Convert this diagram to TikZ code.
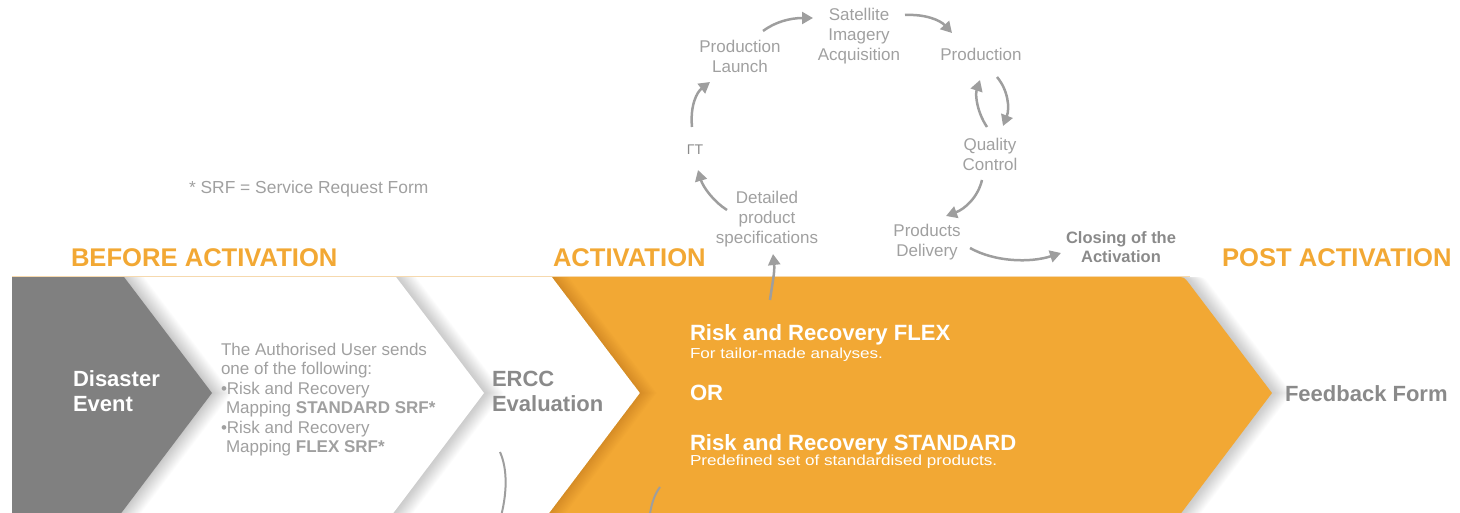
\documentclass[tikz,border=0pt]{standalone}
\usepackage{fontspec}
\setmainfont{Liberation Sans}
\newfontfamily\widesans[FakeStretch=1.18]{Liberation Sans}
\usetikzlibrary{arrows.meta}
\definecolor{orng}{RGB}{242,168,52}
\definecolor{chevgray}{RGB}{128,128,128}
\definecolor{txtgray}{RGB}{160,160,160}
\definecolor{dkgray}{RGB}{138,138,138}
\definecolor{arrgray}{RGB}{158,158,158}
\definecolor{toplinec}{RGB}{246,217,174}
\newcommand\fsz[2]{\fontsize{#1}{#2}\selectfont}
\begin{document}
\begin{tikzpicture}[x=1pt,y=-1pt,
  every node/.style={inner sep=0pt, outer sep=0pt},
  heading/.style={text=orng, font=\fsz{25.6}{30}\bfseries, anchor=base west},
  cyc/.style={text=txtgray, font=\fsz{17}{20}, align=center, anchor=north},
  whitebold/.style={text=white, font=\fsz{22.1}{25}\bfseries, anchor=base west},
  whitesmall/.style={text=white, font=\fsz{14.5}{17}\widesans, anchor=base west},
  flow/.style={draw=arrgray, line width=2.5pt, -{Triangle[length=11pt,width=12pt]}},
  thinc/.style={draw=arrgray, line width=2pt},
  shade/.style={fill=black, opacity=0.011}]
\useasboundingbox (0,0) rectangle (1460,513);
\clip (0,0) rectangle (1460,513);

% white chevron with shadow
\foreach \i in {1,...,18}{
  \fill[shade, xshift=\i*1.1] (100,277) -- (396,277) -- (484,393) -- (388,520) -- (100,520) -- cycle;
}
\fill[white] (100,277) -- (396,277) -- (484,393) -- (388,520) -- (100,520) -- cycle;

% gray chevron with shadow
\foreach \i in {1,...,18}{
  \fill[shade, xshift=\i*1.1] (12,277) -- (124,277) -- (212,393) -- (116,520) -- (12,520) -- cycle;
}
\fill[chevgray] (12,277) -- (124,277) -- (212,393) -- (116,520) -- (12,520) -- cycle;

% orange chevron with shadow
\foreach \i in {1,...,18}{
  \fill[shade, xshift=\i*1.1] (552,277) -- (1176,277) .. controls (1184,277) and (1184,277) .. (1189,283.4) -- (1272,393) -- (1176,520) -- (544,520) -- (640,393) -- cycle;
}
\fill[orng] (552,277) -- (1176,277) .. controls (1184,277) and (1184,277) .. (1189,283.4) -- (1272,393) -- (1176,520) -- (544,520) -- (640,393) -- cycle;
% inner shading along the orange notch
\begin{scope}
  \clip (552,277) -- (1176,277) -- (1272,393) -- (1176,520) -- (544,520) -- (640,393) -- cycle;
  \foreach \i in {1,...,14}{
    \fill[fill=black, opacity=0.008, xshift=\i*1.2] (400,277) -- (552,277) -- (640,393) -- (544,520) -- (400,520) -- cycle;
  }
\end{scope}

% thin top line
\draw[toplinec, line width=1.5pt] (12,276.3) -- (1190,276.3);

% headings
\node[heading] (hb) at (71,267) {BEFORE ACTIVATION};
\node[heading] (ha) at (553,267) {ACTIVATION};
\node[heading] (hp) at (1222,267) {POST ACTIVATION};

\node[anchor=base west, text=txtgray, font=\fsz{17.4}{20}] (srf) at (189,194) {* SRF = Service Request Form};

% chevron texts
\node[anchor=north west, align=left, text=white, font=\fsz{22}{25}\bfseries] (dis) at (73,371) {Disaster\\Event};
\node[anchor=north west, align=left, text=dkgray, font=\fsz{22}{25}\bfseries] (ercc) at (492,371) {ERCC\\Evaluation};
\node[anchor=north west, align=left, text=txtgray, font=\fsz{17}{19.5}] (user) at (221,343)
  {The Authorised User sends\\one of the following:\\•Risk and Recovery\\\hspace*{5pt}Mapping \textbf{STANDARD SRF*}\\•Risk and Recovery\\\hspace*{5pt}Mapping \textbf{FLEX SRF*}};

\node[whitebold] (flexT) at (690,340) {Risk and Recovery FLEX};
\node[whitesmall] (flexD) at (690,358) {For tailor-made analyses.};
\node[whitebold] (or) at (690,400) {OR};
\node[whitebold] (stdT) at (690,450) {Risk and Recovery STANDARD};
\node[whitesmall] (stdD) at (690,465) {Predefined set of standardised products.};

\node[anchor=base west, text=dkgray, font=\fsz{22}{25}\bfseries] (fb) at (1285,401) {Feedback Form};

% cycle labels
\node[cyc] (launch) at (740,40) {Production\\Launch};
\node[cyc] (sat) at (859,8) {Satellite\\Imagery\\Acquisition};
\node[cyc] (prod) at (981,48) {Production};
\node[cyc] (qc) at (990,138) {Quality\\Control};
\node[cyc] (deliv) at (927,224) {Products\\Delivery};
\node[cyc] (spec) at (767,191) {Detailed\\product\\specifications};
\node[cyc, text=dkgray, font=\fsz{16.5}{19}\bfseries] (closing) at (1121,232) {Closing of the\\Activation};
\node[anchor=base, text=dkgray, font=\fsz{14}{16}] (gt) at (695,155) {ΓT};

% connector end points
\coordinate (a1s) at (692,127); \coordinate (a1e) at (710,82);
\coordinate (a2s) at (763,31);  \coordinate (a2e) at (813,18);
\coordinate (a3s) at (905,15);  \coordinate (a3e) at (952,33);
\coordinate (a4s) at (997,77);  \coordinate (a4e) at (1003,126);
\coordinate (a5s) at (987,127); \coordinate (a5e) at (980,80);
\coordinate (a6s) at (982,180); \coordinate (a6e) at (946,216);
\coordinate (a7s) at (970,248); \coordinate (a7e) at (1061,253);
\coordinate (a8s) at (727,210); \coordinate (a8e) at (698,170);
\coordinate (a9s) at (770,300); \coordinate (a9e) at (773,254);
\coordinate (c1s) at (500,452); \coordinate (c1e) at (500,520);
\coordinate (c2s) at (660,487); \coordinate (c2e) at (649,520);

% cycle arrows
\draw[flow] (a1s) .. controls (690,105) and (697,92) .. (a1e);
\draw[flow] (a2s) .. controls (775,22) and (790,18) .. (a2e);
\draw[flow] (a3s) .. controls (925,14) and (940,20) .. (a3e);
\draw[flow] (a4s) .. controls (1008,90) and (1010,108) .. (a4e);
\draw[flow] (a5s) .. controls (977,112) and (975,95) .. (a5e);
\draw[flow] (a6s) .. controls (978,197) and (965,209) .. (a6e);
\draw[flow] (a7s) .. controls (995,262) and (1030,263) .. (a7e);
\draw[flow] (a8s) .. controls (714,202) and (703,187) .. (a8e);
\draw[flow] (a9s) .. controls (772,285) and (775,272) .. (a9e);

% thin curves at bottom
\draw[thinc] (c1s) .. controls (508,470) and (507,495) .. (c1e);
\draw[thinc] (c2s) .. controls (654,495) and (651,505) .. (c2e);
\end{tikzpicture}
\end{document}
